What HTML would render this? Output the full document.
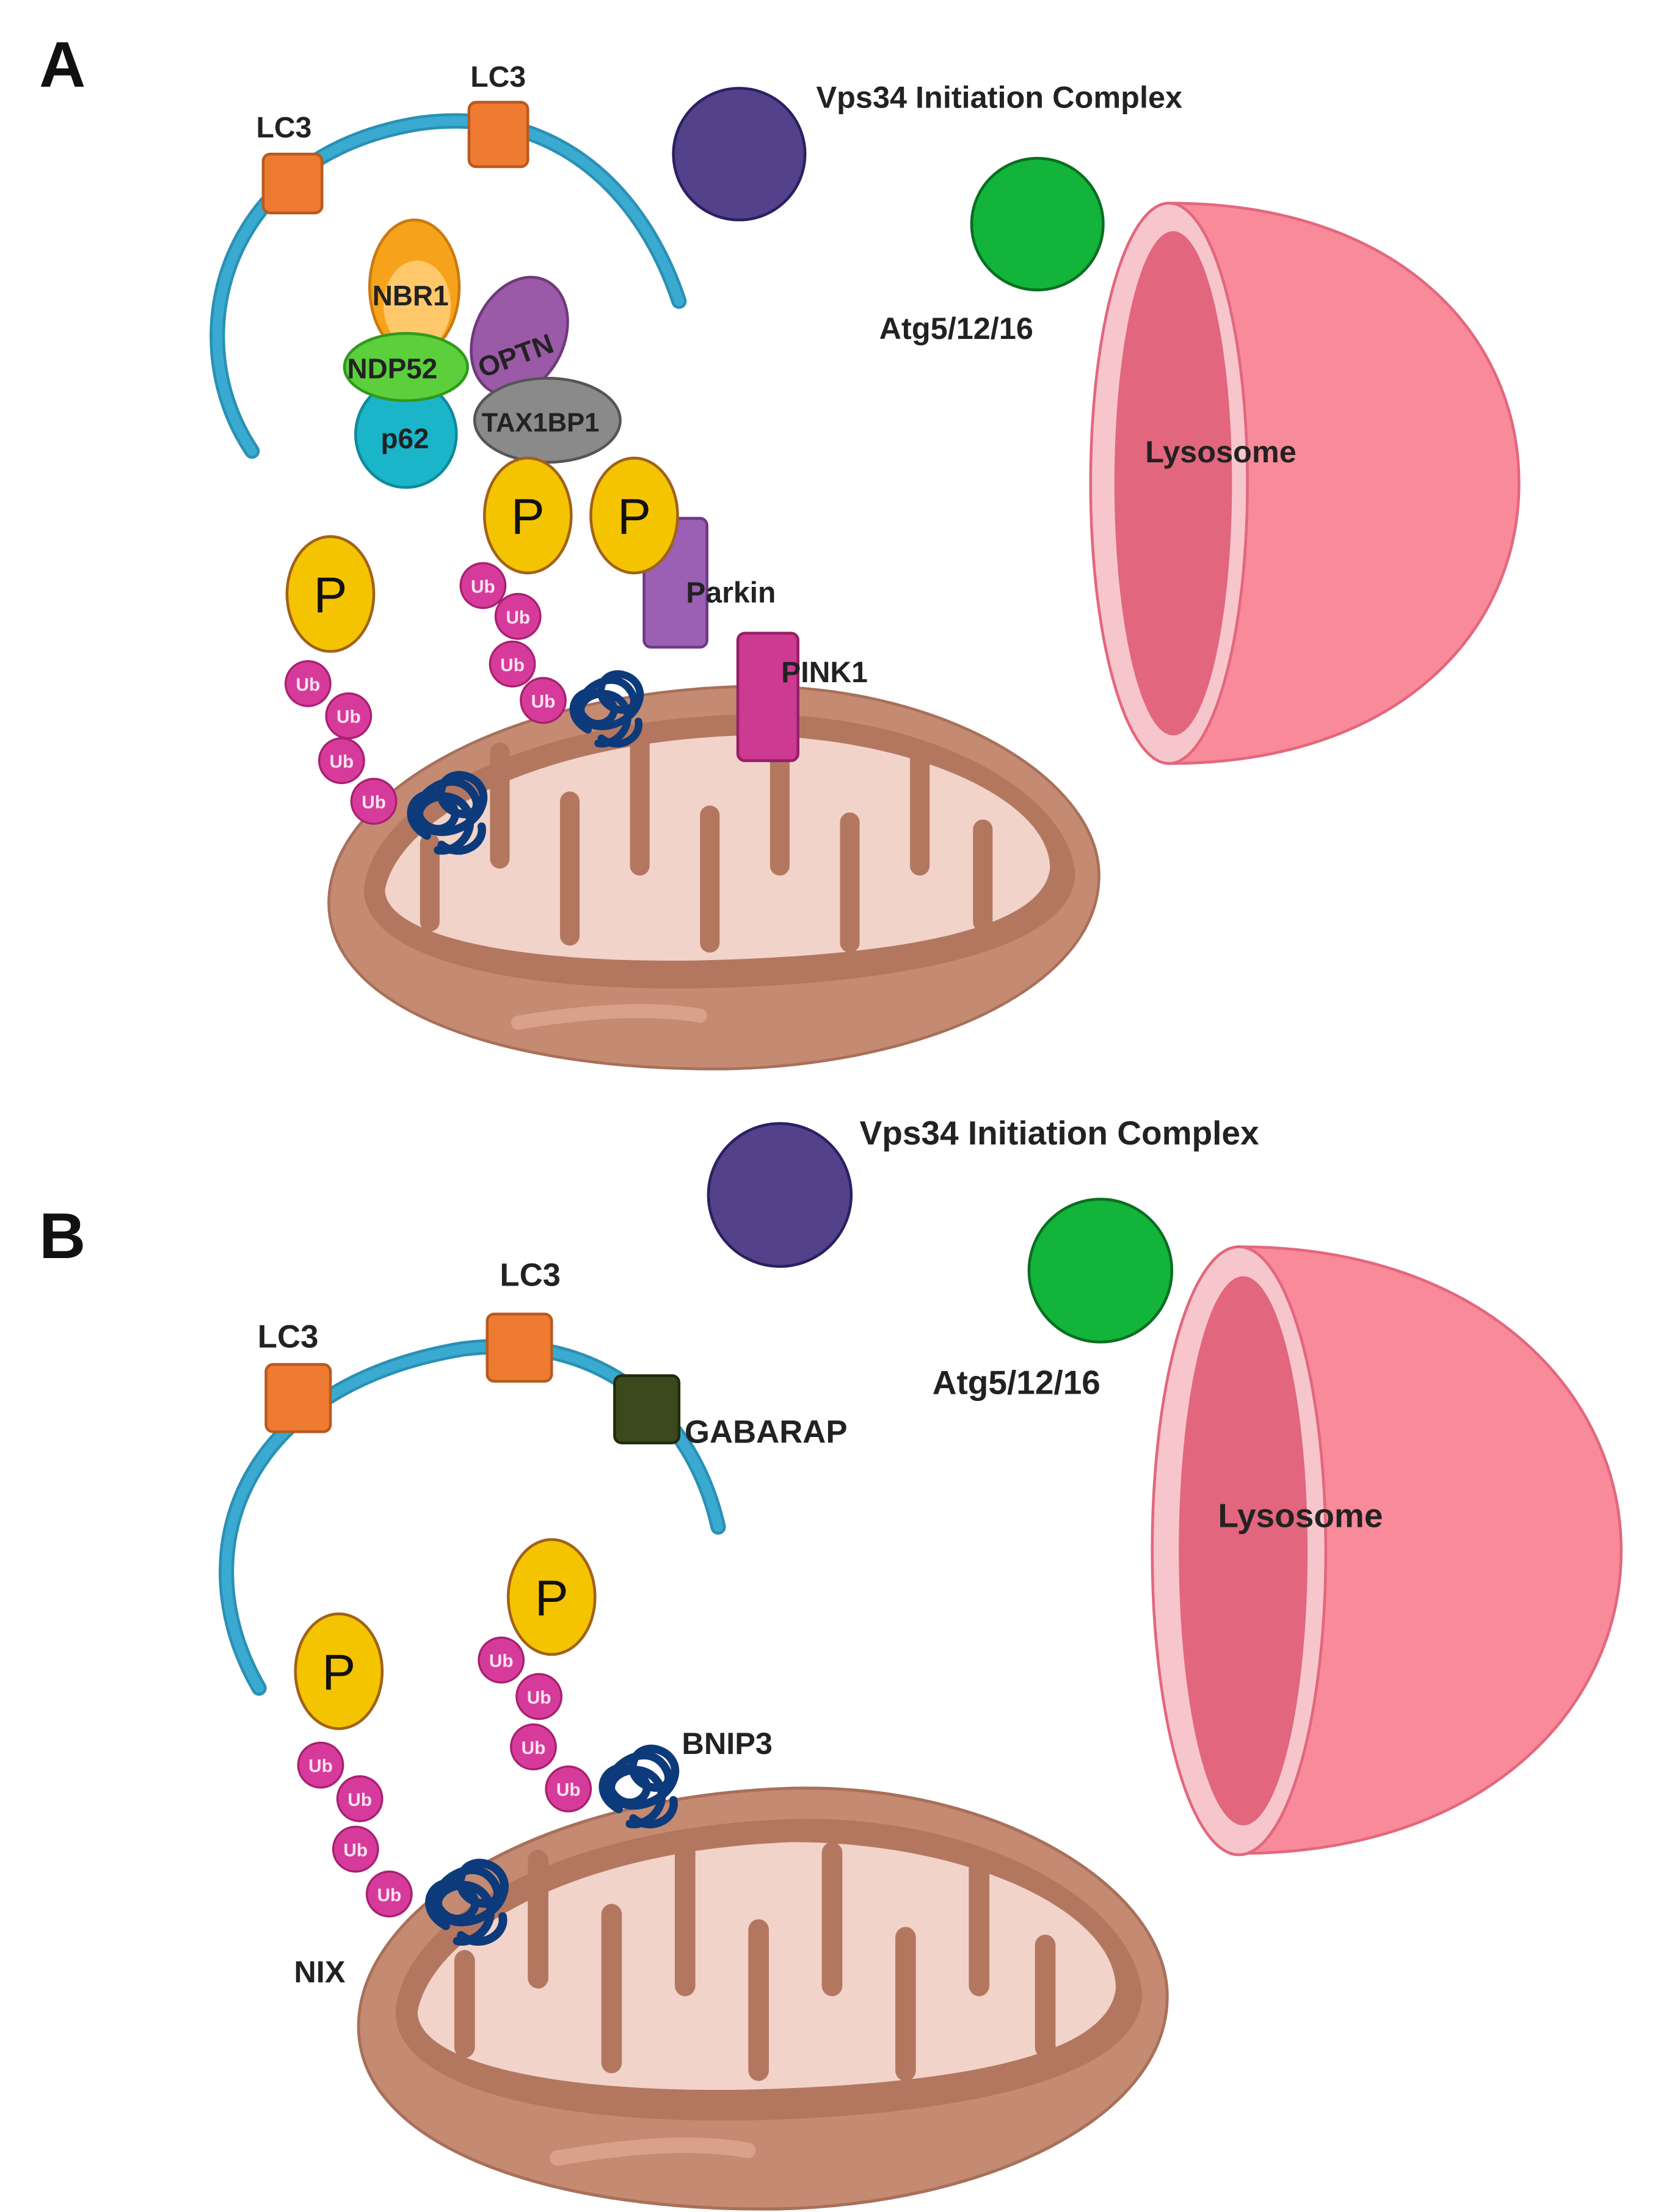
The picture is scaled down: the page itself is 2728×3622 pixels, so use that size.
<!DOCTYPE html>
<html><head><meta charset="utf-8"><style>
html,body{margin:0;padding:0;background:#fff}
svg{display:block}
text{font-family:"Liberation Sans",sans-serif;font-weight:bold;fill:#222}
</style></head><body>
<svg width="2728" height="3622" viewBox="0 0 1190 1579" preserveAspectRatio="none" xmlns="http://www.w3.org/2000/svg">
<defs>
<g id="ub"><circle r="16" fill="#d63b9b" stroke="#a8206f" stroke-width="1.5"/><text y="5" text-anchor="middle" font-size="13" style="fill:#fbe3f0">Ub</text></g>
<g id="pp"><ellipse rx="31" ry="41" fill="#f5c400" stroke="#a0621a" stroke-width="2"/><text y="13" text-anchor="middle" font-size="36" style="font-weight:normal;fill:#111">P</text></g>
<g id="sq"><path d="M-10,5 c-18,-10 -5,-30 10,-20 c15,10 -5,25 -14,10 c-6,-12 20,-30 30,-12 c8,16 -22,12 -18,-4 c4,-14 28,-6 22,10 c-5,14 -30,20 -34,6 c-3,-10 18,-18 26,-4 c6,12 -6,24 -16,22 M-2,10 c10,8 24,0 22,-10" fill="none" stroke="#0d3a7a" stroke-width="4.5" stroke-linecap="round"/></g>
<g id="mito">
<path d="M-275,15 C-270,-60 -150,-130 20,-135 C160,-138 275,-70 275,0 C275,80 150,135 10,138 C-150,140 -280,95 -275,15 Z" fill="#c48a72" stroke="#a8705a" stroke-width="2"/>
<path d="M-250,10 C-245,-50 -140,-110 20,-115 C150,-118 255,-60 258,0 C255,50 150,75 10,80 C-140,85 -250,60 -250,10 Z" fill="#b3775f"/>
<path d="M-235,10 C-225,-40 -130,-95 20,-100 C140,-100 240,-55 240,-5 C235,35 150,55 10,60 C-130,65 -235,45 -235,10 Z" fill="#f1d3ca"/>
<g fill="#b3775f">
<rect x="-160" y="-95" width="14" height="90" rx="7"/>
<rect x="-110" y="-60" width="14" height="110" rx="7"/>
<rect x="-60" y="-100" width="14" height="100" rx="7"/>
<rect x="-10" y="-50" width="14" height="105" rx="7"/>
<rect x="40" y="-100" width="14" height="100" rx="7"/>
<rect x="90" y="-45" width="14" height="100" rx="7"/>
<rect x="140" y="-90" width="14" height="90" rx="7"/>
<rect x="185" y="-40" width="14" height="80" rx="7"/>
<rect x="-210" y="-30" width="14" height="70" rx="7"/>
</g>
<path d="M-140,105 C-80,95 -40,95 -10,100" stroke="#d9a08a" stroke-width="10" stroke-linecap="round" fill="none"/>
</g>
</defs>

<!-- Panel A -->
<text x="28" y="62" font-size="46" style="fill:#111">A</text>
<path d="M180,322 C125,240 160,110 300,88 C400,75 460,140 485,215" fill="none" stroke="#2a90b5" stroke-width="11" stroke-linecap="round"/>
<path d="M180,322 C125,240 160,110 300,88 C400,75 460,140 485,215" fill="none" stroke="#3aaad0" stroke-width="7" stroke-linecap="round"/>
<rect x="188" y="110" width="42" height="42" rx="5" fill="#ef7b32" stroke="#b85a20" stroke-width="2"/>
<rect x="335" y="73" width="42" height="46" rx="5" fill="#ef7b32" stroke="#b85a20" stroke-width="2"/>
<text x="183" y="98" font-size="21">LC3</text>
<text x="336" y="62" font-size="21">LC3</text>
<circle cx="528" cy="110" r="47" fill="#54418c" stroke="#2d2060" stroke-width="2"/>
<text x="583" y="77" font-size="22">Vps34 Initiation Complex</text>
<circle cx="741" cy="160" r="47" fill="#12b43a" stroke="#0a6e22" stroke-width="2"/>
<text x="628" y="242" font-size="22">Atg5/12/16</text>
<path d="M835,145 C1000,145 1085,240 1085,345 C1085,450 1000,545 835,545 Z" fill="#f98a9a" stroke="#e3677d" stroke-width="2"/>
<ellipse cx="835" cy="345" rx="56" ry="200" fill="#f7c6cd" stroke="#e3677d" stroke-width="2"/>
<ellipse cx="838" cy="345" rx="42" ry="180" fill="#e2667d"/>
<text x="818" y="330" font-size="22">Lysosome</text>

<use href="#mito" transform="translate(510,625)"/>
<ellipse cx="290" cy="310" rx="36" ry="38" fill="#1ab5c9" stroke="#0f8a9a" stroke-width="2"/>
<ellipse cx="296" cy="205" rx="32" ry="48" fill="#f7a21b" stroke="#c97a10" stroke-width="2"/>
<ellipse cx="298" cy="218" rx="24" ry="32" fill="#ffc86b"/>
<ellipse cx="290" cy="262" rx="44" ry="24" fill="#5ccf3d" stroke="#2f9a1c" stroke-width="2"/>
<ellipse cx="371" cy="240" rx="32" ry="44" transform="rotate(25 371 240)" fill="#9b5aa8" stroke="#6e3a7a" stroke-width="2"/>
<ellipse cx="391" cy="300" rx="52" ry="30" fill="#8a8a8a" stroke="#555" stroke-width="2"/>
<text x="266" y="218" font-size="20">NBR1</text>
<text x="248" y="270" font-size="20">NDP52</text>
<text x="272" y="320" font-size="20">p62</text>
<text x="340" y="260" font-size="20" transform="rotate(-20 370 252)">OPTN</text>
<text x="344" y="308" font-size="19">TAX1BP1</text>

<rect x="460" y="370" width="45" height="92" rx="5" fill="#9b5fb3" stroke="#6e3a86" stroke-width="2"/>
<text x="490" y="430" font-size="21">Parkin</text>
<rect x="527" y="452" width="43" height="91" rx="5" fill="#cc3a92" stroke="#951f68" stroke-width="2"/>
<text x="558" y="487" font-size="21">PINK1</text>

<use href="#pp" transform="translate(236,424)"/>
<use href="#pp" transform="translate(377,368)"/>
<use href="#pp" transform="translate(453,368)"/>
<use href="#ub" transform="translate(220,488)"/>
<use href="#ub" transform="translate(249,511)"/>
<use href="#ub" transform="translate(244,543)"/>
<use href="#ub" transform="translate(267,572)"/>
<use href="#ub" transform="translate(345,418)"/>
<use href="#ub" transform="translate(370,440)"/>
<use href="#ub" transform="translate(366,474)"/>
<use href="#ub" transform="translate(388,500)"/>
<use href="#sq" transform="translate(318,590) scale(1.3)"/>
<use href="#sq" transform="translate(432,515) scale(1.2)"/>

<!-- Panel B -->
<text x="28" y="898" font-size="46" style="fill:#111">B</text>
<path d="M185,1205 C130,1110 170,990 330,963 C430,950 495,1010 513,1090" fill="none" stroke="#2a90b5" stroke-width="11" stroke-linecap="round"/>
<path d="M185,1205 C130,1110 170,990 330,963 C430,950 495,1010 513,1090" fill="none" stroke="#3aaad0" stroke-width="7" stroke-linecap="round"/>
<rect x="190" y="974" width="46" height="48" rx="5" fill="#ef7b32" stroke="#b85a20" stroke-width="2"/>
<rect x="348" y="938" width="46" height="48" rx="5" fill="#ef7b32" stroke="#b85a20" stroke-width="2"/>
<rect x="439" y="982" width="46" height="48" rx="5" fill="#3b4a1c" stroke="#222c0e" stroke-width="2"/>
<text x="184" y="962" font-size="23">LC3</text>
<text x="357" y="918" font-size="23">LC3</text>
<text x="489" y="1030" font-size="23">GABARAP</text>
<circle cx="557" cy="853" r="51" fill="#54418c" stroke="#2d2060" stroke-width="2"/>
<text x="614" y="817" font-size="24">Vps34 Initiation Complex</text>
<circle cx="786" cy="907" r="51" fill="#12b43a" stroke="#0a6e22" stroke-width="2"/>
<text x="666" y="995" font-size="24">Atg5/12/16</text>
<path d="M885,890 C1060,890 1158,995 1158,1107 C1158,1220 1060,1323 885,1323 Z" fill="#f98a9a" stroke="#e3677d" stroke-width="2"/>
<ellipse cx="885" cy="1107" rx="62" ry="217" fill="#f7c6cd" stroke="#e3677d" stroke-width="2"/>
<ellipse cx="888" cy="1107" rx="46" ry="196" fill="#e2667d"/>
<text x="870" y="1090" font-size="24">Lysosome</text>

<use href="#mito" transform="translate(545,1425) scale(1.05,1.1)"/>
<use href="#pp" transform="translate(242,1193)"/>
<use href="#pp" transform="translate(394,1140)"/>
<use href="#ub" transform="translate(229,1260)"/>
<use href="#ub" transform="translate(257,1284)"/>
<use href="#ub" transform="translate(254,1320)"/>
<use href="#ub" transform="translate(278,1352)"/>
<use href="#ub" transform="translate(358,1185)"/>
<use href="#ub" transform="translate(385,1211)"/>
<use href="#ub" transform="translate(381,1247)"/>
<use href="#ub" transform="translate(406,1277)"/>
<use href="#sq" transform="translate(332,1368) scale(1.35)"/>
<use href="#sq" transform="translate(455,1285) scale(1.3)"/>
<text x="487" y="1252" font-size="22">BNIP3</text>
<text x="210" y="1415" font-size="22">NIX</text>
</svg>
</body></html>
